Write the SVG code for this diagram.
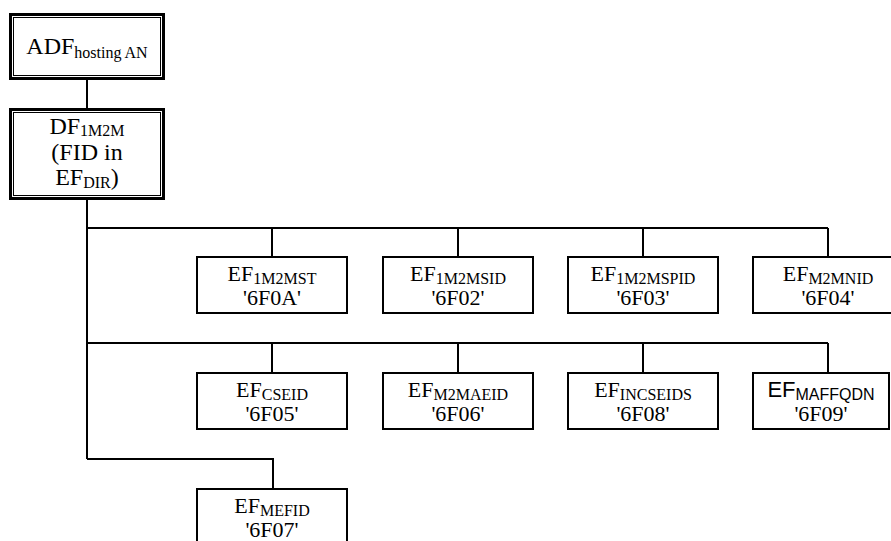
<svg xmlns="http://www.w3.org/2000/svg" width="891" height="541" viewBox="0 0 891 541">
<style>
text{font-family:"Liberation Serif","Times New Roman",serif;font-size:22px;fill:#000;text-anchor:middle}
.big{font-size:24px}
.sub{font-size:16px}
.sans{font-family:"Liberation Sans",Arial,sans-serif}
.box{fill:#fff;stroke:#000;stroke-width:2}
.thick{fill:none;stroke:#000;stroke-width:3}
.thin{fill:none;stroke:#000;stroke-width:1}
.ln{fill:none;stroke:#000;stroke-width:2}
</style>
<rect width="891" height="541" fill="#fff"/>
<g id="connectors">
<path class="ln" d="M87 79V109M87 199V459M87 228H828M272 228V257M458 228V257M643 228V257M828 228V257M87 343H828M272 343V373M458 343V373M643 343V373M828 343V373M87 459H273V489"/>
</g>
<g id="adf">
<rect class="thick" x="10.5" y="14.5" width="153" height="64"/>
<rect class="thin" x="13.5" y="17.5" width="147" height="58"/>
<text class="big" x="87" y="54">ADF<tspan class="sub" dy="4">hosting AN</tspan></text>
</g>
<g id="df1m2m">
<rect class="thick" x="10.5" y="109.5" width="153" height="89"/>
<rect class="thin" x="13.5" y="112.5" width="147" height="83"/>
<text class="big" x="87" y="134">DF<tspan class="sub" dy="2">1M2M</tspan></text>
<text class="big" x="87" y="160">(FID in</text>
<text class="big" x="87" y="185">EF<tspan class="sub" dy="3">DIR</tspan><tspan dy="-3">)</tspan></text>
</g>
<g id="ef1m2mst">
<rect class="box" x="197" y="257" width="150" height="56"/>
<text x="272" y="281">EF<tspan class="sub" dy="3">1M2MST</tspan></text>
<text x="272" y="305">'6F0A'</text>
</g>
<g id="ef1m2msid">
<rect class="box" x="383" y="257" width="150" height="56"/>
<text x="458" y="281">EF<tspan class="sub" dy="3">1M2MSID</tspan></text>
<text x="458" y="305">'6F02'</text>
</g>
<g id="ef1m2mspid">
<rect class="box" x="568" y="257" width="150" height="56"/>
<text x="643" y="281">EF<tspan class="sub" dy="3">1M2MSPID</tspan></text>
<text x="643" y="305">'6F03'</text>
</g>
<g id="efm2mnid">
<rect class="box" x="753" y="257" width="150" height="56"/>
<text x="828" y="281">EF<tspan class="sub" dy="3">M2MNID</tspan></text>
<text x="828" y="305">'6F04'</text>
</g>
<g id="efcseid">
<rect class="box" x="197" y="373" width="150" height="56"/>
<text x="272" y="397">EF<tspan class="sub" dy="3">CSEID</tspan></text>
<text x="272" y="421">'6F05'</text>
</g>
<g id="efm2maeid">
<rect class="box" x="383" y="373" width="150" height="56"/>
<text x="458" y="397">EF<tspan class="sub" dy="3">M2MAEID</tspan></text>
<text x="458" y="421">'6F06'</text>
</g>
<g id="efincseids">
<rect class="box" x="568" y="373" width="150" height="56"/>
<text x="643" y="397">EF<tspan class="sub" dy="3">INCSEIDS</tspan></text>
<text x="643" y="421">'6F08'</text>
</g>
<g id="efmaffqdn">
<rect class="box" x="753" y="373" width="136" height="56"/>
<text class="sans" x="821" y="397">EF<tspan class="sub" dy="3">MAFFQDN</tspan></text>
<text x="821" y="421">'6F09'</text>
</g>
<g id="efmefid">
<rect class="box" x="197" y="489" width="150" height="70"/>
<text x="272" y="513">EF<tspan class="sub" dy="3">MEFID</tspan></text>
<text x="272" y="537">'6F07'</text>
</g>
</svg>
